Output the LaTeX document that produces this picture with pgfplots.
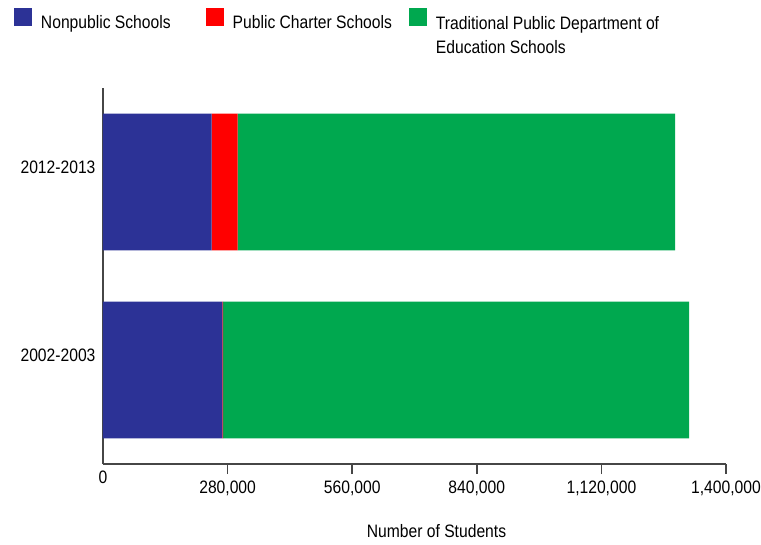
\documentclass[border=0pt]{standalone}
\usepackage{fontspec}
\setmainfont{Liberation Sans}[FakeStretch=0.87]
\usepackage{pgfplots}
\pgfplotsset{compat=1.18}
\definecolor{npblue}{RGB}{44,50,150}
\definecolor{pcred}{RGB}{255,0,0}
\definecolor{tpgreen}{RGB}{0,168,79}
\definecolor{axisgray}{RGB}{70,70,70}
\pgfplotsset{sqlegend/.style={legend image code/.code={\fill[##1] (0pt,-3pt) rectangle (18pt,15pt); \path (25pt,0pt);}}}
\begin{document}
\begin{tikzpicture}[font=\fontsize{18}{22}\selectfont]
\useasboundingbox (-103pt,-80pt) rectangle (658pt,464pt);
\begin{axis}[
  at={(0,0)}, anchor=south west,
  scale only axis, width=623pt, height=376pt,
  xbar stacked, bar width=0.727,
  xmin=0, xmax=1400000, ymin=-0.5, ymax=1.5,
  axis x line=bottom, axis y line=left,
  axis line style={-, draw=axisgray},
  x axis line style={line width=1.8pt},
  y axis line style={line width=1.2pt},
  xtick={280000,560000,840000,1120000,1400000},
  xticklabels={{280,000},{560,000},{840,000},{1,120,000},{1,400,000}},
  extra x ticks={0}, extra x tick labels={0},
  extra x tick style={major tick length=0pt},
  xticklabel style={yshift=-3pt},
  scaled x ticks=false,
  tick align=outside, major tick length=10pt,
  xtick style={draw=axisgray, line width=1.5pt},
  ytick={0,1}, yticklabels={2002-2003,2012-2013},
  ytick style={draw=none},
  yticklabel style={xshift=6pt, yshift=15pt},
  xlabel={Number of Students},
  xlabel style={at={(axis description cs:0.5,0)}, anchor=base, xshift=22pt, yshift=-73pt},
  legend columns=3,
  legend cell align=left,
  legend style={at={(rel axis cs:0,1)}, anchor=north west, xshift=-89pt, yshift=80pt,
    draw=none, fill=none, inner sep=0pt, outer sep=0pt,
    /tikz/column 2/.style={column sep=33pt},
    /tikz/column 4/.style={column sep=15pt}},
]
\addplot[fill=npblue, draw=none, sqlegend] coordinates {(268000,0) (244000,1)};
\addlegendentry{Nonpublic Schools}
\addplot[fill=pcred, draw=none, sqlegend] coordinates {(2000,0) (58500,1)};
\addlegendentry{Public Charter Schools}
\addplot[fill=tpgreen, draw=none, sqlegend] coordinates {(1047000,0) (983000,1)};
\addlegendentry{\begin{tabular}[t]{@{}l@{}}Traditional Public Department of\\[2pt]Education Schools\end{tabular}}
\node[anchor=base east, inner sep=0pt] at ([xshift=-13pt,yshift=5pt]rel axis cs:0,1) {School Year};
\end{axis}
\end{tikzpicture}
\end{document}
